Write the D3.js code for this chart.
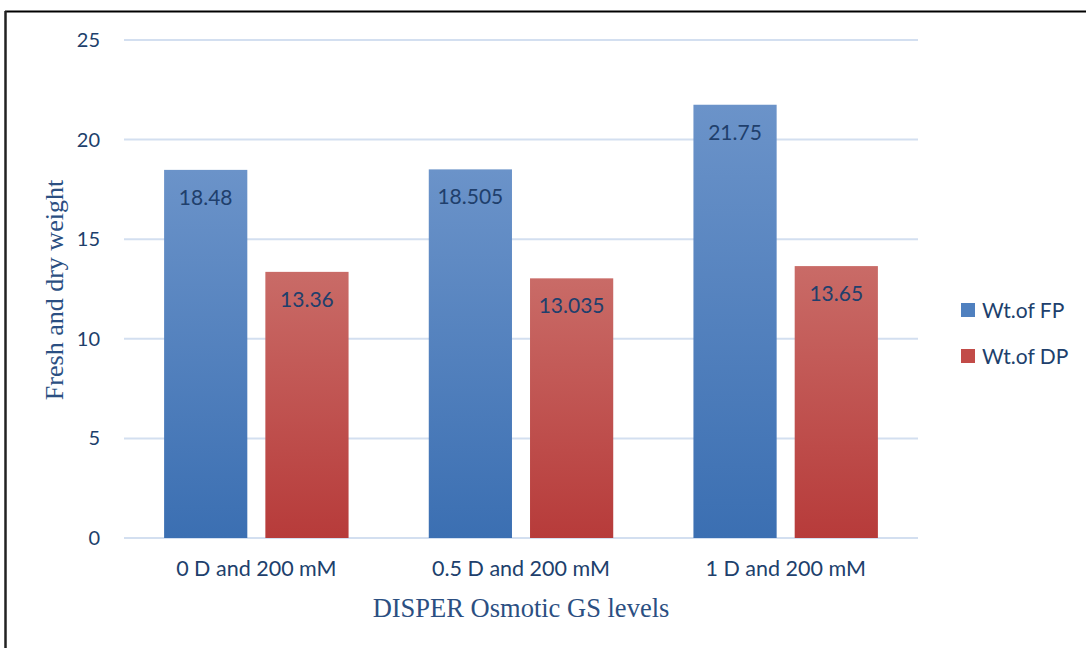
<!DOCTYPE html>
<html><head><meta charset="utf-8">
<script src="https://cdn.jsdelivr.net/npm/d3@7"></script>
<style>body{margin:0;background:#fff}svg{display:block}</style>
</head><body>
<svg id="c" width="1086" height="648"></svg>
<script>
const categories = ["0 D and 200 mM", "0.5 D and 200 mM", "1 D and 200 mM"];
const seriesNames = ["Wt.of FP", "Wt.of DP"];
const fpValues = [18.48, 18.505, 21.75];
const dpValues = [13.36, 13.035, 13.65];
const fpLabels = ["18.48", "18.505", "21.75"];
const dpLabels = ["13.36", "13.035", "13.65"];
const yTicks = [0, 5, 10, 15, 20, 25];
const xTitle = "DISPER Osmotic GS levels";
const yTitle = "Fresh and dry weight";

const svg = d3.select("#c");
const textColor = "#203f6c";
const sansFont = "Lato, 'Open Sans', sans-serif";
const serifFont = "'Liberation Serif', 'Times New Roman', serif";

// frame
svg.append("line").attr("x1",5).attr("x2",1086).attr("y1",11.5).attr("y2",11.5).attr("stroke","#000").attr("stroke-width",2);
svg.append("line").attr("x1",5.5).attr("x2",5.5).attr("y1",11).attr("y2",648).attr("stroke","#222").attr("stroke-width",2.5);

const defs = svg.append("defs");
const gradBlue = defs.append("linearGradient").attr("id","gBlue").attr("x1",0).attr("x2",0).attr("y1",0).attr("y2",1);
gradBlue.append("stop").attr("offset","0%").attr("stop-color","#6b93c9");
gradBlue.append("stop").attr("offset","100%").attr("stop-color","#3b6fb2");
const gradRed = defs.append("linearGradient").attr("id","gRed").attr("x1",0).attr("x2",0).attr("y1",0).attr("y2",1);
gradRed.append("stop").attr("offset","0%").attr("stop-color","#c96b67");
gradRed.append("stop").attr("offset","100%").attr("stop-color","#b73b3a");
const fills = ["url(#gBlue)", "url(#gRed)"];
const legendFills = ["#4f80bf", "#c24b48"];

const pLeft = 124, pRight = 918, pTop = 40, pBottom = 538;
const y = d3.scaleLinear().domain([0, 25]).range([pBottom, pTop]);
const x0 = d3.scaleBand().domain(categories).range([pLeft, pRight]).padding(0);
const x1 = d3.scaleBand().domain(seriesNames).range([0, x0.bandwidth()])
  .paddingInner(18/101).paddingOuter(40/101);

// gridlines
svg.append("g").selectAll("line").data(yTicks).join("line")
  .attr("x1", pLeft).attr("x2", pRight)
  .attr("y1", d => y(d)).attr("y2", d => y(d))
  .attr("stroke", "#d3dff0").attr("stroke-width", 2);

// y axis labels
const yAxis = d3.axisLeft(y).tickValues(yTicks).tickSize(0).tickPadding(0);
const ya = svg.append("g").attr("transform", `translate(100,0)`).call(yAxis);
ya.select(".domain").remove();
ya.selectAll("text").attr("font-family", sansFont).attr("font-size", 20).attr("fill", textColor);

// x axis labels
const xAxis = d3.axisBottom(x0).tickSize(0).tickPadding(0);
const xa = svg.append("g").attr("transform", `translate(0,561)`).call(xAxis);
xa.select(".domain").remove();
xa.selectAll("text").attr("font-family", sansFont).attr("font-size", 21.5).attr("fill", textColor);

// bars
const data = categories.map((c, i) => ({cat: c, vals: [
  {s: seriesNames[0], v: fpValues[i], lab: fpLabels[i], k: 0},
  {s: seriesNames[1], v: dpValues[i], lab: dpLabels[i], k: 1}
]}));
const groups = svg.append("g").selectAll("g").data(data).join("g")
  .attr("transform", d => `translate(${x0(d.cat)},0)`);
groups.selectAll("rect").data(d => d.vals).join("rect")
  .attr("x", d => x1(d.s)).attr("width", x1.bandwidth())
  .attr("y", d => y(d.v)).attr("height", d => y(0) - y(d.v))
  .attr("fill", d => fills[d.k]);
groups.selectAll("text").data(d => d.vals).join("text")
  .attr("x", d => x1(d.s) + x1.bandwidth()/2)
  .attr("y", d => y(d.v) + 35)
  .attr("text-anchor", "middle")
  .attr("font-family", sansFont).attr("font-size", 21)
  .attr("fill", textColor)
  .text(d => d.lab);

// axis titles
svg.append("text").attr("x", (pLeft+pRight)/2).attr("y", 617).attr("text-anchor","middle")
  .attr("font-family", serifFont).attr("font-size", 26.5).attr("fill", "#2b4f82").text(xTitle);
svg.append("text").attr("transform", `translate(63,290) rotate(-90)`).attr("text-anchor","middle")
  .attr("font-family", serifFont).attr("font-size", 26).attr("fill", "#2b4f82").text(yTitle);

// legend
const leg = svg.append("g").selectAll("g").data(seriesNames).join("g")
  .attr("transform", (d,i) => `translate(961,${303 + i*46})`);
leg.append("rect").attr("width", 14).attr("height", 14).attr("fill", (d,i) => legendFills[i]);
leg.append("text").attr("x", 21).attr("y", 14.5).attr("font-family", sansFont).attr("font-size", 21)
  .attr("fill", textColor).text(d => d);
</script>
</body></html>
